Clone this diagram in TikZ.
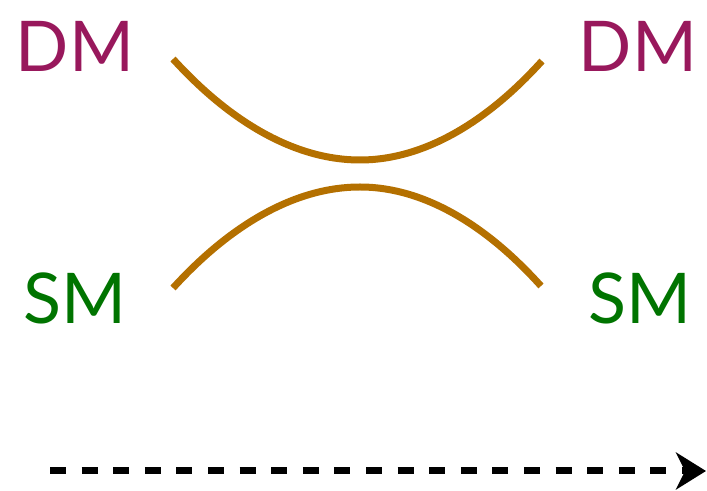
\documentclass[tikz,border=0pt]{standalone}
\usepackage{fontspec}
\setmainfont{Lato}
\usepackage{tikz}
\usetikzlibrary{arrows.meta}
\usepackage{xcolor}
\definecolor{dmpurple}{RGB}{152,24,92}
\definecolor{smgreen}{RGB}{0,116,0}
\definecolor{lineorange}{RGB}{180,112,0}

\begin{document}
\begin{tikzpicture}[x=0.5pt, y=-0.5pt,
    lbl/.style={inner sep=0pt, font=\fontsize{35}{40}\selectfont},
    dmlbl/.style={lbl, text=dmpurple},
    smlbl/.style={lbl, text=smgreen},
    branch/.style={lineorange, line width=3.5pt}]
        \useasboundingbox (0,0) rectangle (707,491);

        % Particle labels
        \node[dmlbl] (dmL) at (75,46)  {DM};
        \node[dmlbl] (dmR) at (638,46) {DM};
        \node[smlbl] (smL) at (75,298) {SM};
        \node[smlbl] (smR) at (640,298) {SM};

        % Branch end points and bends
        \coordinate (upL) at (173,59);
        \coordinate (upR) at (542,61);
        \coordinate (upB) at (360,160);
        \coordinate (loL) at (173,288);
        \coordinate (loR) at (541,286);
        \coordinate (loB) at (360,187);

        % Upper branch (DM side)
        \draw[branch] (upL) parabola bend (upB) (upR);

        % Lower branch (SM side)
        \draw[branch] (loL) parabola bend (loB) (loR);

        % Time direction
        \coordinate (tStart) at (50,471);
        \coordinate (tEnd) at (706,471);
        \draw[line width=3.5pt, dash pattern=on 8pt off 7.8pt,
          -{Stealth[length=15pt, width=18.5pt, inset=4.5pt]}]
          (tStart) -- (tEnd);
\end{tikzpicture}
\end{document}
